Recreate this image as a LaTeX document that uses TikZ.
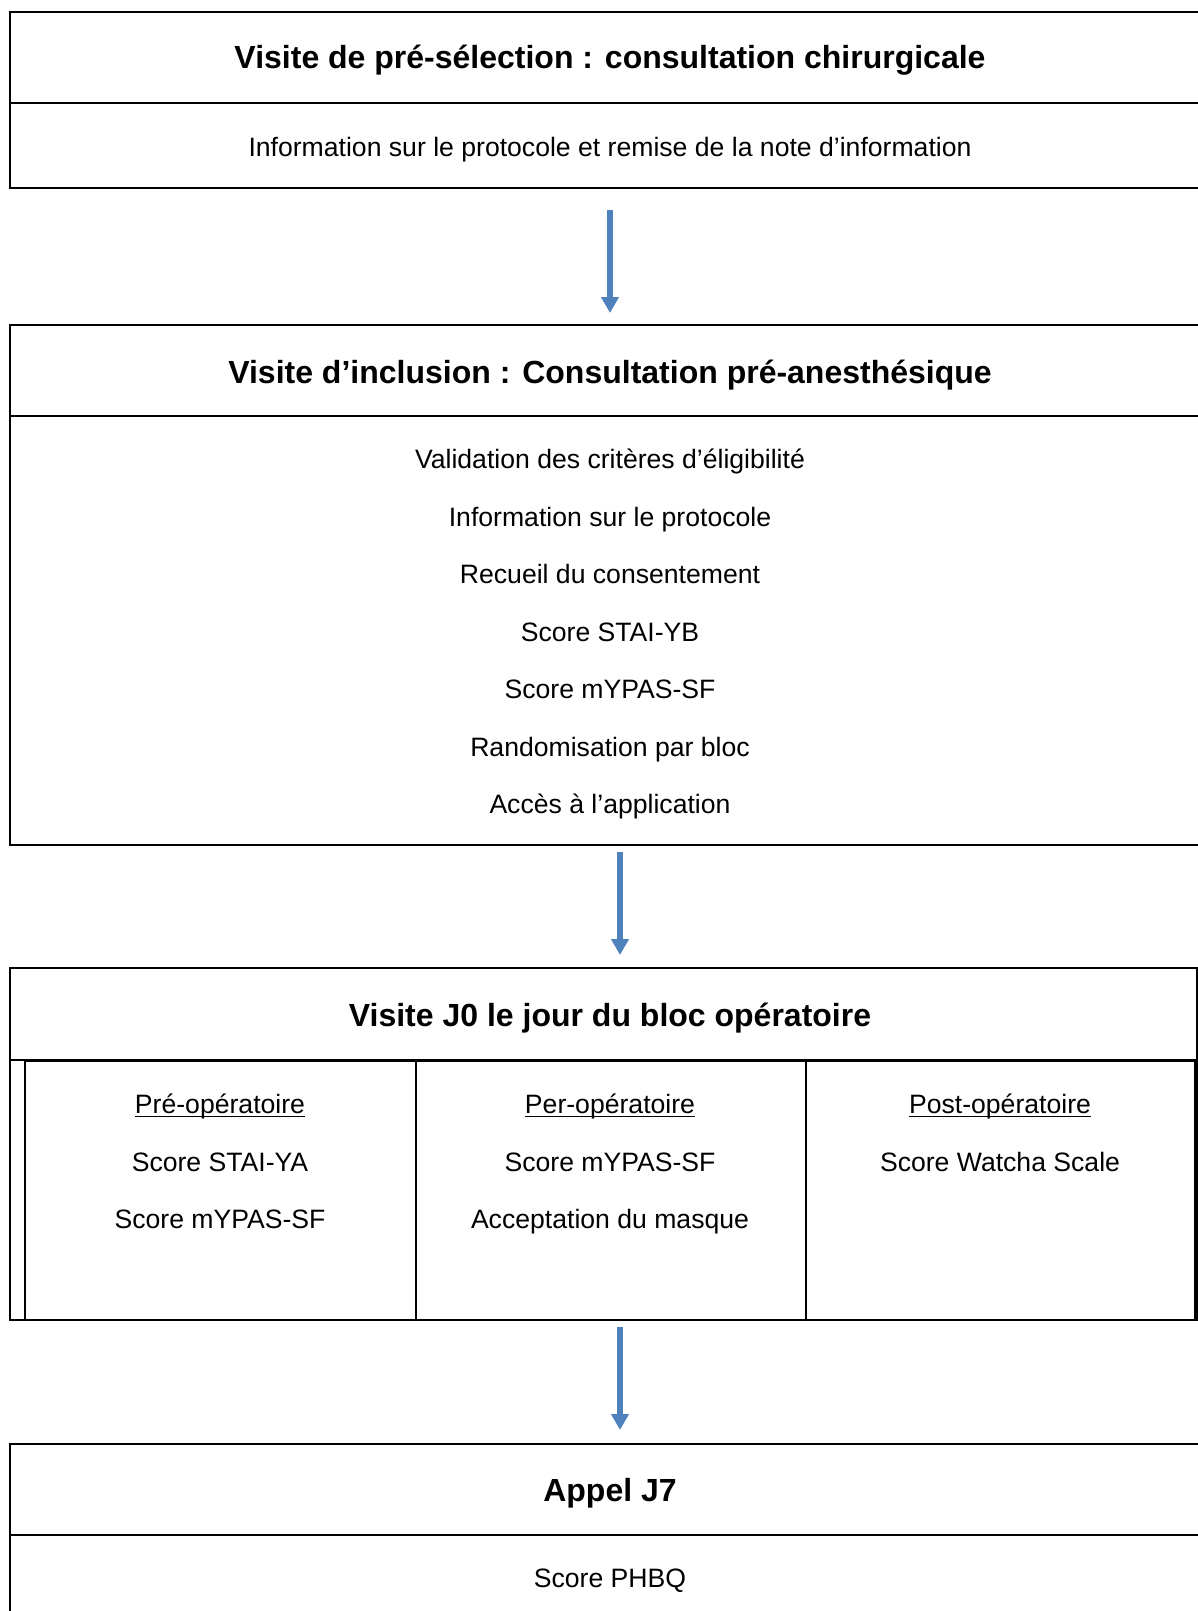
\documentclass[tikz,border=0pt]{standalone}
\usepackage{fontspec}
\setmainfont{Liberation Sans}
\usetikzlibrary{arrows.meta}
\definecolor{flechebleu}{RGB}{79,129,189}
\newlength{\souslongueur}
\newcommand{\souligne}[1]{\settowidth{\souslongueur}{#1}\rlap{#1}\rule[-0.14em]{\souslongueur}{0.055em}}

\begin{document}
\begin{tikzpicture}[x=0.5pt,y=0.5pt,yscale=-1,
    cadre/.style={line width=1pt},
    trait/.style={line width=1.4pt},
    titre/.style={inner sep=0pt, text height=1.12em, text depth=0pt, font=\fontsize{16}{19}\selectfont\bfseries},
    ligne/.style={inner sep=0pt, text height=0.91em, text depth=0pt, font=\fontsize{13.3}{16}\selectfont},
    fleche/.style={draw=flechebleu, line width=2.6pt, -{Triangle[width=8.5pt,length=8pt]}}]
        \useasboundingbox (0,0) rectangle (1198,1611);

        %Shape: Box 1 (open on the right)
        \draw [cadre] (1205,12) -- (10,12) -- (10,188) -- (1205,188) ;
        \draw [cadre] (10,103) -- (1205,103) ;
        %Shape: Box 2
        \draw [cadre] (1205,325) -- (10,325) -- (10,845) -- (1205,845) ;
        \draw [cadre] (10,416) -- (1205,416) ;
        %Shape: Box 3
        \draw [cadre] (1197,968) -- (10,968) -- (10,1320) -- (1197,1320) -- cycle ;
        \draw [trait] (10,1060) -- (1205,1060) ;
        %Shape: Table J0
        \draw [trait] (25,1061) rectangle (1195,1320) ;
        \draw [trait] (416,1061) -- (416,1320) ;
        \draw [trait] (806,1061) -- (806,1320) ;
        %Shape: Box 4
        \draw [cadre] (1205,1444) -- (10,1444) -- (10,1620) ;
        \draw [cadre] (10,1535) -- (1205,1535) ;

        % Text Node
        \node [titre] (titre1) at (610,57.5) {Visite de pré-sélection : consultation chirurgicale};
        % Text Node
        \node [ligne] (info1) at (610,147) {Information sur le protocole et remise de la note d’information};

        % Text Node
        \node [titre] (titre2) at (610,372) {Visite d’inclusion : Consultation pré-anesthésique};
        % Text Node
        \node [ligne] (crit) at (610,459) {Validation des critères d’éligibilité};
        \node [ligne] (proto) at (610,517) {Information sur le protocole};
        \node [ligne] (consent) at (610,574) {Recueil du consentement};
        \node [ligne] (staiyb) at (610,632) {Score STAI-YB};
        \node [ligne] (mypas1) at (610,689) {Score mYPAS-SF};
        \node [ligne] (random) at (610,747) {Randomisation par bloc};
        \node [ligne] (appli) at (610,804.5) {Accès à l’application};

        % Text Node
        \node [titre] (titre3) at (610,1015) {Visite J0 le jour du bloc opératoire};
        % Text Node: colonnes
        \node [ligne] (preop) at (220,1104.5) {\souligne{Pré-opératoire}};
        \node [ligne] (staiya) at (220,1162) {Score STAI-YA};
        \node [ligne] (mypas2) at (220,1219.5) {Score mYPAS-SF};
        \node [ligne] (perop) at (610,1104.5) {\souligne{Per-opératoire}};
        \node [ligne] (mypas3) at (610,1162) {Score mYPAS-SF};
        \node [ligne] (masque) at (610,1219.5) {Acceptation du masque};
        \node [ligne] (postop) at (1000,1104.5) {\souligne{Post-opératoire}};
        \node [ligne] (watcha) at (1000,1162) {Score Watcha Scale};

        % Text Node
        \node [titre] (titre4) at (610,1490) {Appel J7};
        \node [ligne] (phbq) at (610,1578) {Score PHBQ};

        % Arrows
        \coordinate (f1a) at (610,210);
        \coordinate (f1b) at (610,313);
        \coordinate (f2a) at (620,852);
        \coordinate (f2b) at (620,955);
        \coordinate (f3a) at (620,1327);
        \coordinate (f3b) at (620,1430);
        \draw [fleche] (f1a) -- (f1b);
        \draw [fleche] (f2a) -- (f2b);
        \draw [fleche] (f3a) -- (f3b);

\end{tikzpicture}
\end{document}
